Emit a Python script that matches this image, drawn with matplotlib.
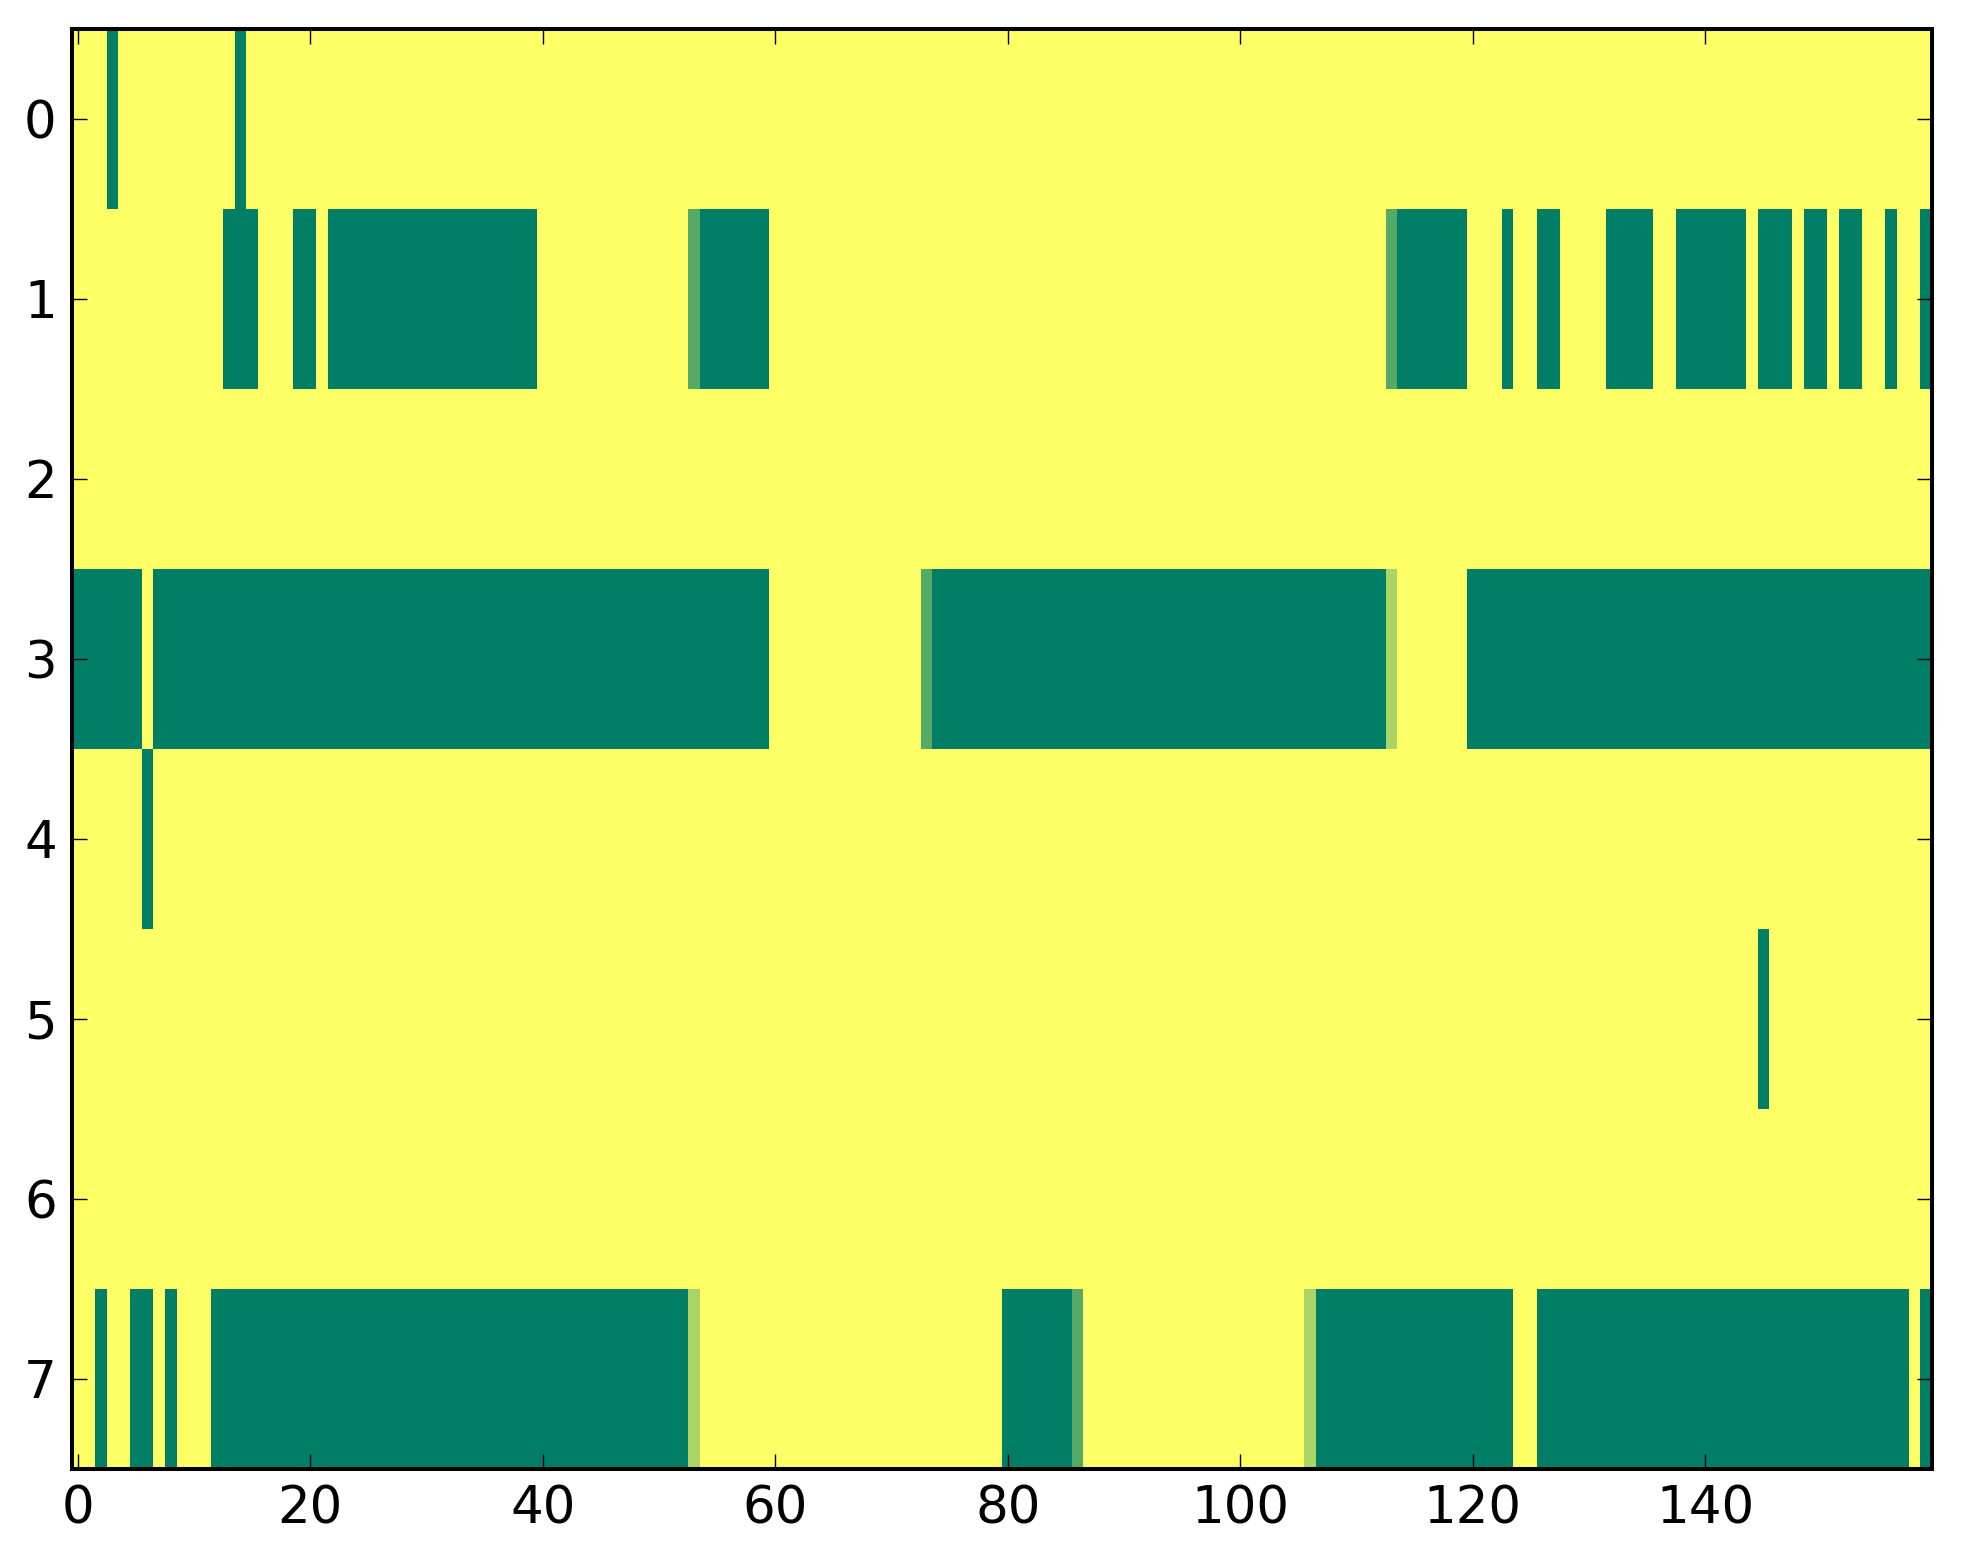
import numpy as np
import matplotlib
matplotlib.use('Agg')
import matplotlib.pyplot as plt

n_rows = 8
n_cols = 160

# runs of (first column, last column, value) per row
row0 = [(3, 3, 1), (14, 14, 1)]
row1 = [(13, 15, 1), (19, 20, 1), (22, 39, 1), (53, 53, 2/3), (54, 59, 1),
        (113, 113, 2/3), (114, 119, 1), (123, 123, 1), (126, 127, 1),
        (132, 135, 1), (138, 143, 1), (145, 147, 1), (149, 150, 1),
        (152, 153, 1), (156, 156, 1), (159, 159, 1)]
row2 = []
row3 = [(0, 5, 1), (7, 59, 1), (73, 73, 2/3), (74, 112, 1), (113, 113, 1/3),
        (120, 159, 1)]
row4 = [(6, 6, 1)]
row5 = [(145, 145, 1)]
row6 = []
row7 = [(2, 2, 1), (5, 6, 1), (8, 8, 1), (12, 52, 1), (53, 53, 1/3),
        (80, 85, 1), (86, 86, 2/3), (106, 106, 1/3), (107, 123, 1),
        (126, 157, 1), (159, 159, 1)]

rows = [row0, row1, row2, row3, row4, row5, row6, row7]

data = np.zeros((n_rows, n_cols))
for i, runs in enumerate(rows):
    for a, b, v in runs:
        data[i, a:b + 1] = v

W, H = 1963, 1564
fig = plt.figure(figsize=(W / 100, H / 100), dpi=100)
ax = fig.add_axes([72 / W, (H - 1469) / H, 1860 / W, 1440 / H])
ax.imshow(data, cmap='summer_r', vmin=0, vmax=1, aspect='auto',
          interpolation='nearest')

ax.set_xticks(np.arange(0, 160, 20))
ax.set_yticks(np.arange(0, 8))
ax.tick_params(direction='in', top=True, right=True, length=10.8, width=1.0,
               labelsize=37, pad=11)
for s in ax.spines.values():
    s.set_linewidth(2.9)

fig.savefig('out.png', dpi=100)
